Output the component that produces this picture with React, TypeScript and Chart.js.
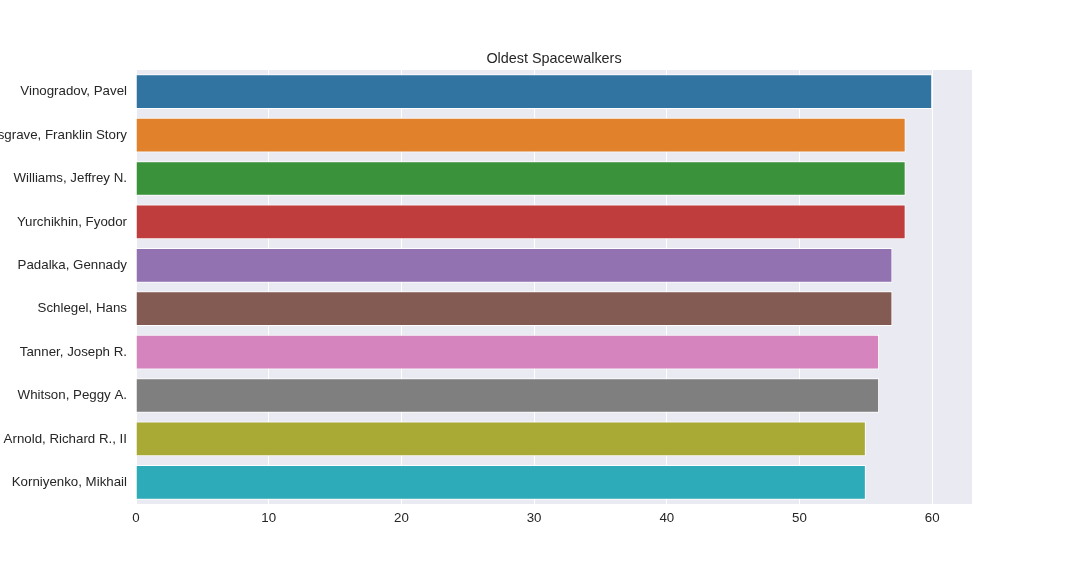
import React, { useEffect, useRef } from "react";
import { Chart, registerables } from "chart.js";

Chart.register(...registerables);

const categories = [
  "Vinogradov, Pavel",
  "Musgrave, Franklin Story",
  "Williams, Jeffrey N.",
  "Yurchikhin, Fyodor",
  "Padalka, Gennady",
  "Schlegel, Hans",
  "Tanner, Joseph R.",
  "Whitson, Peggy A.",
  "Arnold, Richard R., II",
  "Korniyenko, Mikhail",
];
const ages = [60, 58, 58, 58, 57, 57, 56, 56, 55, 55];
const barColors = [
  "#3274A1",
  "#E1812C",
  "#3A923A",
  "#C03D3E",
  "#9372B2",
  "#845B53",
  "#D684BD",
  "#7F7F7F",
  "#A9AA35",
  "#2EABB8",
];
const xMax = 63;
const xStep = 10;
const titleText = "Oldest Spacewalkers";

const FONT = "'Liberation Sans', Arial, sans-serif";

const bgPlugin = {
  id: "plotBg",
  beforeDraw(chart: any) {
    const { ctx, chartArea } = chart;
    ctx.save();
    ctx.fillStyle = "#EAEAF2";
    ctx.fillRect(chartArea.left, chartArea.top, chartArea.right - chartArea.left, chartArea.bottom - chartArea.top);
    ctx.restore();
  },
};

const titlePlugin = {
  id: "plotTitle",
  afterDraw(chart: any) {
    const { ctx, chartArea } = chart;
    ctx.save();
    ctx.fillStyle = "#262626";
    ctx.font = `14.4px ${FONT}`;
    ctx.textAlign = "center";
    ctx.textBaseline = "middle";
    ctx.fillText(titleText, (chartArea.left + chartArea.right) / 2, chartArea.top - 11);
    ctx.restore();
  },
};

export default function App() {
  const ref = useRef<HTMLCanvasElement | null>(null);
  useEffect(() => {
    if (!ref.current) return;
    const chart = new Chart(ref.current, {
      type: "bar",
      data: {
        labels: categories,
        datasets: [
          {
            data: ages,
            backgroundColor: barColors,
            borderColor: "#FFFFFF",
            borderWidth: 1,
            barPercentage: 0.8,
            categoryPercentage: 1,
          },
        ],
      },
      options: {
        indexAxis: "y",
        animation: false,
        responsive: false,
        devicePixelRatio: 1,
        layout: { padding: { left: 0, right: 108, top: 70, bottom: 0 } },
        plugins: {
          legend: { display: false },
          tooltip: { enabled: false },
          title: { display: false },
        },
        scales: {
          x: {
            type: "linear",
            min: 0,
            max: xMax,
            grid: { color: "#FFFFFF", lineWidth: 1, drawTicks: false },
            border: { display: false },
            ticks: {
              stepSize: xStep,
              includeBounds: false,
              color: "#262626",
              padding: 6,
              maxRotation: 0,
              font: { family: FONT, size: 13.3 },
            },
            afterFit(scale: any) {
              scale.height = 72;
            },
          },
          y: {
            grid: { display: false, drawTicks: false },
            border: { display: false },
            ticks: {
              color: "#262626",
              padding: 9,
              autoSkip: false,
              font: { family: FONT, size: 13.3 },
            },
            afterFit(scale: any) {
              scale.width = 136;
            },
          },
        },
      },
      plugins: [bgPlugin, titlePlugin],
    } as any);
    return () => chart.destroy();
  }, []);
  return (
    <div style={{ position: "fixed", left: 0, top: 0, width: 1080, height: 576, background: "#FFFFFF" }}>
      <canvas ref={ref} width={1080} height={576} style={{ width: 1080, height: 576, display: "block" }} />
    </div>
  );
}
